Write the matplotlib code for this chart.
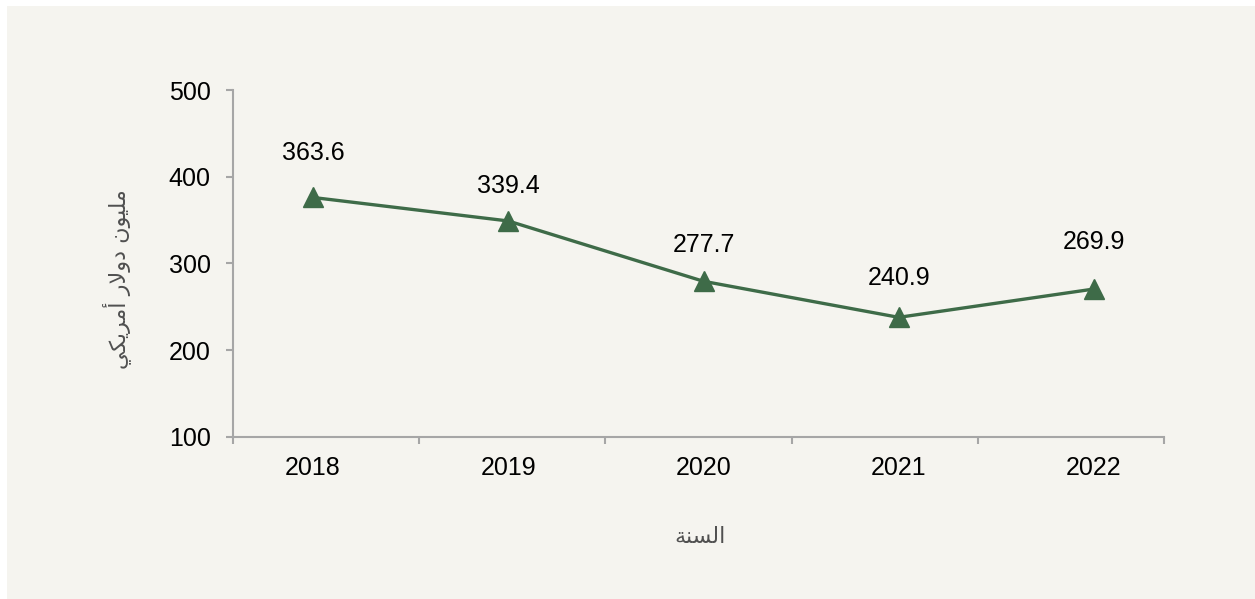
import matplotlib
matplotlib.use("Agg")
import matplotlib.pyplot as plt
from matplotlib.patches import Rectangle
import numpy as np

# data
years = ["2018", "2019", "2020", "2021", "2022"]
plotted = [376.0, 348.9, 279.3, 237.7, 270.4]   # where the markers sit
labels = ["363.6", "339.4", "277.7", "240.9", "269.9"]  # printed values
label_offsets = [32, 25, 26, 28, 34]  # points above the marker

y_label = "\uFEF2\uFEDC\uFEF3\uFEAE\uFEE3\uFE83 \uFEAD\uFEFB\uFEED\uFEA9 \uFEE5\uFEEE\uFEF4\uFEE0\uFEE3"  # مليون دولار أمريكي
x_label = "\uFE94\uFEE8\uFEB4\uFEDF\uFE8D"  # السنة

bg = "#F5F4EF"
green = "#3E6B48"
axis_grey = "#A6A6A6"

plt.rcParams['font.family'] = ['Liberation Sans', 'DejaVu Sans']

fig = plt.figure(figsize=(12.55, 5.99), dpi=100, facecolor="white")
fig.patches.append(Rectangle((7 / 1255, 0), 1, 1 - 6 / 599, transform=fig.transFigure,
                             facecolor=bg, edgecolor="none", zorder=-10))

ax = fig.add_axes([233 / 1255, 1 - 436.7 / 599, (1164 - 233) / 1255, (436.7 - 90) / 599])
ax.set_facecolor("none")
ax.set_zorder(5)

x = np.arange(len(years))
ax.plot(x, plotted, color=green, lw=2.4, marker="^", markersize=14, zorder=3)

for xi, yi, txt, off in zip(x, plotted, labels, label_offsets):
    ax.annotate(txt, xy=(xi, yi), xytext=(0, off), textcoords="offset points",
                ha="center", va="center", fontsize=18, color="black")

# categories sit 195 px apart while the axis boundaries are 186 px apart
x0 = -(313 - 233) / 195.25
x1 = (1164 - 313) / 195.25
ax.set_xlim(x0, x1)
ax.set_ylim(100, 500)
ax.set_yticks([100, 200, 300, 400, 500])
ax.set_xticks(x)
ax.set_xticklabels(years)
ax.set_xticks(np.linspace(x0, x1, 6), minor=True)

ax.tick_params(axis="x", which="major", length=0, pad=14, labelsize=18)
ax.tick_params(axis="x", which="minor", length=5, width=1.5, color=axis_grey, direction="out")
ax.tick_params(axis="y", length=5, width=1.5, color=axis_grey, pad=11, labelsize=18)

for side in ["top", "right"]:
    ax.spines[side].set_visible(False)
for side in ["left", "bottom"]:
    ax.spines[side].set_color(axis_grey)
    ax.spines[side].set_linewidth(1.5)

fig.text(117 / 1255, 1 - 279 / 599, y_label, rotation=90, ha="center", va="center",
         fontsize=16, color="#505050", family=['DejaVu Sans'])
fig.text(700 / 1255, 1 - 537 / 599, x_label, ha="center", va="center",
         fontsize=16, color="#505050", family=['DejaVu Sans'])

fig.savefig("out.png", dpi=100, facecolor=fig.get_facecolor())
